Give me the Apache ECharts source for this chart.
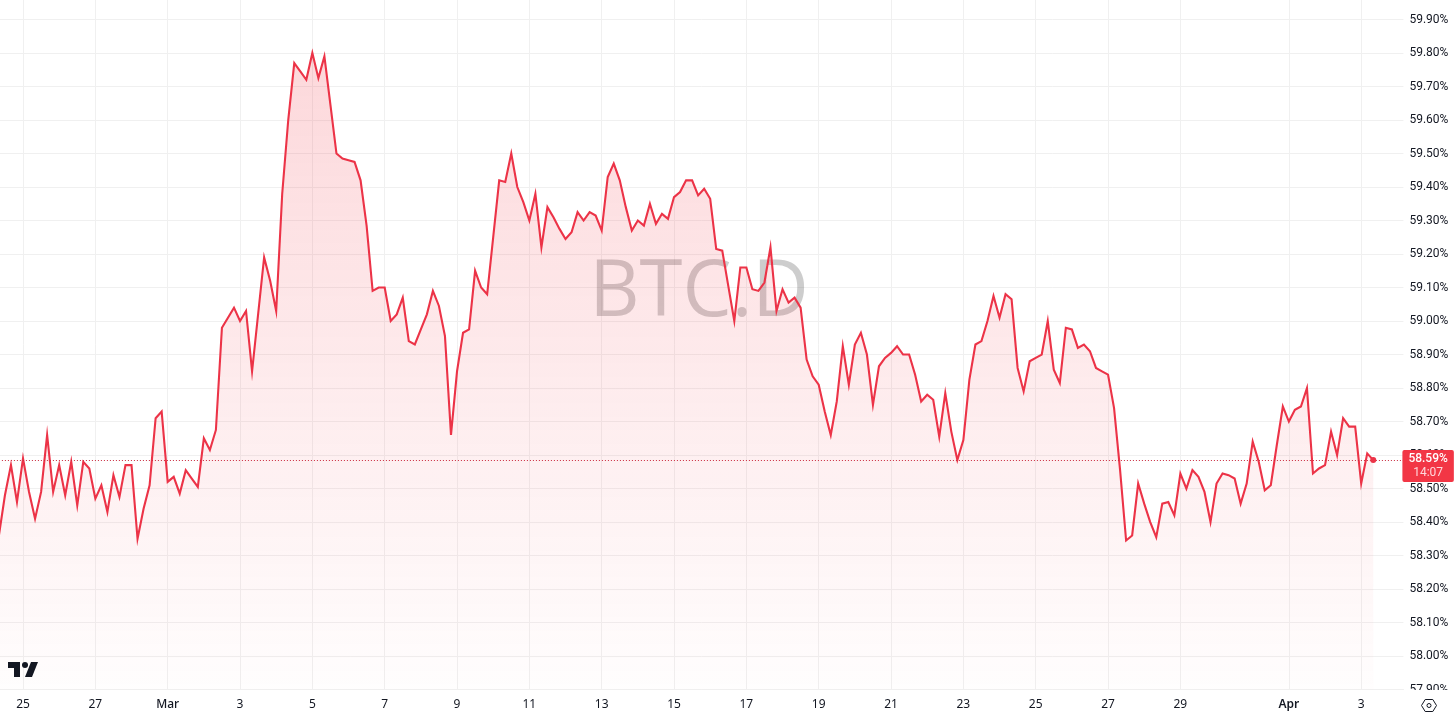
<!DOCTYPE html>
<html><head><meta charset="utf-8">
<style>html,body{margin:0;padding:0;background:#fff;overflow:hidden}#c{width:1456px;height:717px}</style>
<script src="https://cdn.jsdelivr.net/npm/echarts@6/dist/echarts.min.js"></script>
</head><body><div id="c"></div>
<script>
const febValues=[58.36,58.48,58.57,58.46,58.59,58.49,58.41,58.49,58.66,58.49,58.57,58.48,58.58,58.45,58.58,58.56,58.47,58.51,58.43,58.54,58.475,58.57,58.57,58.35,58.44,58.51,58.71,58.73];
const marValuesA=[58.52,58.535,58.485,58.555,58.53,58.505,58.65,58.615,58.675,58.98,59.01,59.04,59.00,59.03,58.85,59.02,59.19,59.12,59.03,59.38,59.60,59.77,59.745,59.72,59.80,59.725,59.79,59.645,59.50,59.485,59.48,59.475,59.42,59.285,59.09,59.10,59.10,59.00,59.02,59.07,58.94,58.93,58.975,59.02,59.09,59.045,58.955,58.66,58.85,58.965,58.975,59.15,59.10,59.08,59.25,59.42,59.415,59.50,59.40,59.355,59.30,59.38];
const marValuesB=[59.22,59.34,59.31,59.275,59.245,59.265,59.325,59.30,59.325,59.315,59.27,59.43,59.47,59.42,59.34,59.27,59.30,59.285,59.35,59.29,59.32,59.305,59.37,59.385,59.42,59.42,59.375,59.395,59.365,59.215,59.21,59.105,59.00,59.16,59.16,59.095,59.09,59.115,59.22,59.03,59.095,59.055,59.07,59.04,58.885,58.835,58.81,58.73,58.66,58.76,58.925,58.81,58.93,58.965,58.90,58.75,58.865,58.89,58.905,58.925,58.90,58.90];
const marValuesC=[58.84,58.76,58.78,58.765,58.655,58.785,58.67,58.585,58.645,58.825,58.93,58.94,59.00,59.075,59.01,59.08,59.065,58.86,58.79,58.88,58.89,58.90,59.00,58.855,58.815,58.98,58.975,58.92,58.93,58.91,58.86,58.85,58.84,58.74,58.555,58.345,58.36,58.515,58.455,58.40,58.355,58.455,58.46,58.42,58.545,58.50,58.555,58.535,58.49,58.40,58.515,58.545,58.54,58.53,58.455,58.515,58.64,58.58,58.495,58.51,58.63,58.745];
const aprValues=[58.70,58.735,58.745,58.80,58.545,58.56,58.57,58.67,58.60,58.71,58.685,58.685,58.515,58.605,58.585];
const tickLabels=['25','27','Mar','3','5','7','9','11','13','15','17','19','21','23','25','27','29','Apr','3'];
const tickBars=[4,16,28,40,52,64,76,88,100,112,124,136,148,160,172,184,196,214,226];
const lastPrice=58.585, lastPriceLabel='58.59%', countdown='14:07', symbolName='BTC.D';
const values=[...febValues,...marValuesA,...marValuesB,...marValuesC,...aprValues];
const barCount=234;
const categories=Array.from({length:barCount},(_,i)=>String(i));
const fontFam='"Noto Sans",Roboto,sans-serif';
const ink='#131722', red='#ec3347', gridCol='#f0f0f0';
const chart=echarts.init(document.getElementById('c'),null,{renderer:'canvas'});
chart.setOption({
 animation:false,
 grid:{left:-1.1,top:-14,width:1404.5,height:703.6,containLabel:false,outerBoundsMode:'none'},
 xAxis:[
  {type:'category',position:'bottom',data:categories,boundaryGap:false,z:0,
   axisLine:{show:true,lineStyle:{color:gridCol,width:1}},axisTick:{show:false},axisLabel:{show:false},
   splitLine:{show:true,lineStyle:{color:gridCol,width:1},interval:(i)=>tickBars.includes(i)}},
  {type:'category',position:'bottom',data:categories,boundaryGap:false,z:5,
   axisLine:{show:false},axisTick:{show:false},splitLine:{show:false},
   axisLabel:{interval:(i)=>tickBars.includes(i),margin:9,color:ink,fontFamily:fontFam,fontSize:12,hideOverlap:false,
    formatter:(v)=>{const t=tickLabels[tickBars.indexOf(+v)];return t==='Apr'?'{b|'+t+'}':t==='Mar'?'{m|'+t+'}':t;},
    rich:{b:{fontWeight:600,fontSize:12,fontFamily:fontFam,color:ink},m:{fontWeight:500,fontSize:12,fontFamily:fontFam,color:ink}}}}
 ],
 yAxis:{type:'value',position:'right',min:57.9,max:60.0,interval:0.1,z:0,scale:true,
  axisLine:{show:false},axisTick:{show:false},
  splitLine:{show:true,lineStyle:{color:gridCol,width:1}},
  axisLabel:{margin:6,padding:[4,0,0,0],color:ink,fontFamily:'Roboto,sans-serif',fontSize:12,formatter:(v)=>v.toFixed(2)+'%'}},
 series:[{type:'line',data:values,xAxisIndex:0,symbol:'none',showSymbol:false,smooth:false,z:2,
  lineStyle:{color:red,width:2.1,join:'miter'},
  areaStyle:{origin:'start',color:new echarts.graphic.LinearGradient(0,0,0,1,[{offset:0,color:'rgba(242,54,69,0.28)'},{offset:1,color:'rgba(242,54,69,0.01)'}])},
  markPoint:{silent:true,symbol:'circle',symbolSize:6,itemStyle:{color:red},label:{show:false},data:[{coord:[String(values.length-1),lastPrice]}]},
  markLine:{silent:true,symbol:'none',animation:false,precision:3,lineStyle:{color:'#c8283c',type:[1,2],width:1},
   label:{show:true,position:'end',distance:-1,offset:[0,6],formatter:()=>'{p|'+lastPriceLabel+'}\n{t|'+countdown+'}',
    backgroundColor:'#f23645',padding:[2,6,2,6],borderRadius:2,
    rich:{p:{color:'#fff',fontFamily:'Roboto,sans-serif',fontSize:12,fontWeight:500,lineHeight:14,align:'center'},t:{color:'#ffd6da',fontFamily:'Roboto,sans-serif',fontSize:12,lineHeight:14,align:'center'}}},
   data:[{yAxis:lastPrice}]}
 }],
 graphic:[
  {type:'text',z:1,silent:true,style:{x:699,y:294,text:symbolName,align:'center',verticalAlign:'middle',font:'400 78px "Open Sans",sans-serif',fill:'rgba(90,90,90,0.3)'}},
  {type:'rect',z:3,silent:true,shape:{x:0,y:690,width:1456,height:27},style:{fill:'#fff'}},
  {type:'polygon',z:6,silent:true,shape:{points:[[8,662],[20,662],[20,677],[14,677],[14,668],[8,668]]},style:{fill:ink}},
  {type:'polygon',z:6,silent:true,shape:{points:[[25,677],[32,677],[38,662],[31,662]]},style:{fill:ink}},
  {type:'circle',z:6,silent:true,shape:{cx:25,cy:665,r:3},style:{fill:ink}},
  {type:'polygon',z:6,silent:true,shape:{points:[[1421.5,705.5],[1425.2,699.5],[1432.8,699.5],[1436.5,705.5],[1432.8,711.5],[1425.2,711.5]]},style:{fill:'none',stroke:ink,lineWidth:1}},
  {type:'circle',z:6,silent:true,shape:{cx:1429,cy:705.5,r:2},style:{fill:'none',stroke:ink,lineWidth:1}}
 ]
});
</script></body></html>
